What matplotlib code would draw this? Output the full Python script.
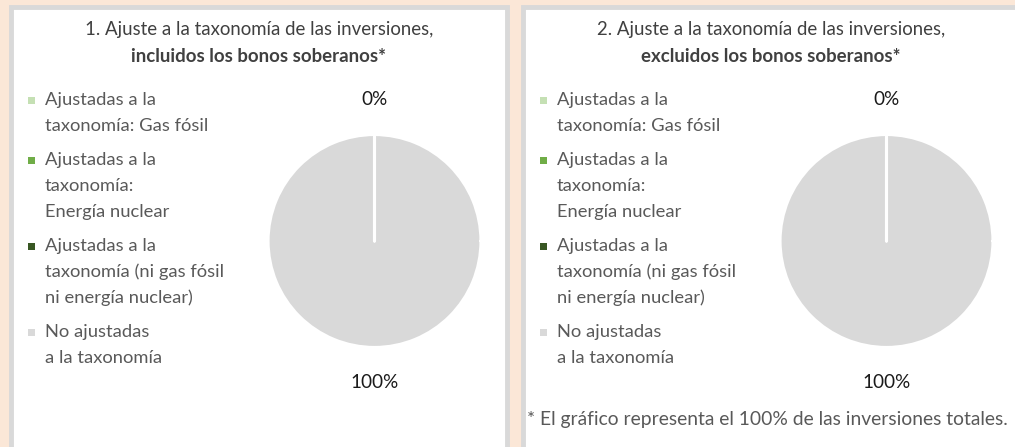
import matplotlib
matplotlib.use("Agg")
import matplotlib.pyplot as plt
from matplotlib.patches import Rectangle

plt.rcParams.update({
    "font.family": ["Lato", "DejaVu Sans"],
    "figure.facecolor": "#fbe7d7",
})

# ── Data ──────────────────────────────────────────────────────────────────────
CATEGORIES = [
    "Ajustadas a la\ntaxonomía: Gas fósil",
    "Ajustadas a la\ntaxonomía:\nEnergía nuclear",
    "Ajustadas a la\ntaxonomía (ni gas fósil\nni energía nuclear)",
    "No ajustadas\na la taxonomía",
]
COLORS = ["#c5e0b4", "#70ad47", "#385723", "#d9d9d9"]
VALUES_INCL = [0, 0, 0, 100]
VALUES_EXCL = [0, 0, 0, 100]
TITLES = [
    ("1. Ajuste a la taxonomía de las inversiones,", "incluidos los bonos soberanos*"),
    ("2. Ajuste a la taxonomía de las inversiones,", "excluidos los bonos soberanos*"),
]
FOOTNOTE = "* El gráfico representa el 100% de las inversiones totales."

W, H = 1015, 447
fig = plt.figure(figsize=(W / 100, H / 100), dpi=100)

# overlay axes in pixel coordinates
bg = fig.add_axes([0, 0, 1, 1])
bg.set_xlim(0, W)
bg.set_ylim(H, 0)
bg.axis("off")

TXT = "#595959"
FS_TITLE = 13.4
FS_LEG = 13.25
FS_LAB = 13.6
FS_NOTE = 13.9


def panel(x0, values, title, footnote=None):
    bg.add_patch(Rectangle((x0 + 2, 7), 496, H + 10, facecolor="white",
                           edgecolor="#d9d9d9", lw=3.5))
    cx = x0 + 250
    bg.text(cx, 30, title[0], ha="center", va="center", fontsize=FS_TITLE, color="#404040")
    bg.text(cx, 56, title[1], ha="center", va="center", fontsize=FS_TITLE,
            color="#404040", fontweight="bold")

    # legend
    y = 100
    for lab, col in zip(CATEGORIES, COLORS):
        bg.add_patch(Rectangle((x0 + 19, y - 3), 7, 7, facecolor=col, lw=0))
        for line in lab.split("\n"):
            bg.text(x0 + 36, y, line, ha="left", va="center", fontsize=FS_LEG, color=TXT)
            y += 26
        y += 8

    # pie
    pcx, pcy, r = x0 + 365.5, 241, 107.5
    ax = fig.add_axes([(pcx - r) / W, 1 - (pcy + r) / H, 2 * r / W, 2 * r / H])
    wedges, texts, autotexts = ax.pie(
        values, colors=COLORS, startangle=90, counterclock=False,
        autopct=lambda p: f"{p:.0f}%", pctdistance=1.33,
        wedgeprops=dict(edgecolor="white", linewidth=2.2, capstyle="round"),
        textprops=dict(fontsize=FS_LAB, color="#1a1a1a"),
    )
    for w, v in zip(wedges, values):
        if v == 0:
            w.set_zorder(3)
    seen = set()
    for t in autotexts:
        key = (round(t.get_position()[0], 3), round(t.get_position()[1], 3))
        if key in seen:
            t.set_visible(False)
        seen.add(key)
    ax.set_xlim(-1.01, 1.01)
    ax.set_ylim(-1.01, 1.01)
    ax.set_aspect("equal")

    if footnote:
        bg.text(x0 + 6, 420, footnote, ha="left", va="center", fontsize=FS_NOTE, color=TXT)


panel(9, VALUES_INCL, TITLES[0])
panel(521, VALUES_EXCL, TITLES[1], FOOTNOTE)

fig.savefig("out.png", dpi=100)
